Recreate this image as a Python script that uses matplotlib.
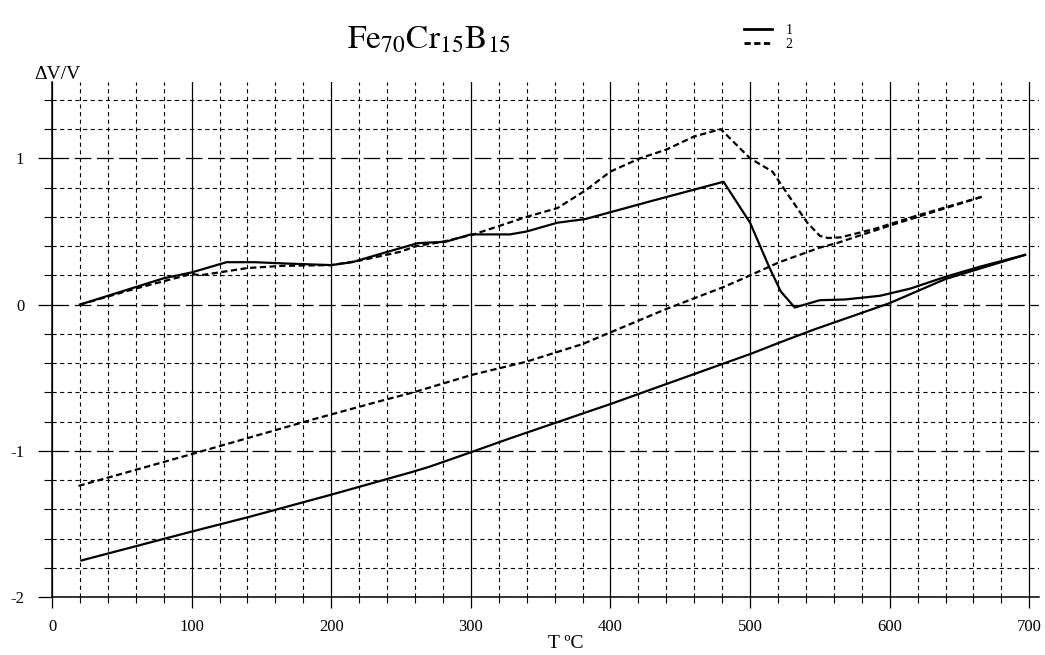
import matplotlib
matplotlib.use('Agg')
import matplotlib.pyplot as plt
from matplotlib.ticker import MultipleLocator

plt.rcParams['font.family'] = ['Liberation Serif', 'DejaVu Serif']
plt.rcParams['mathtext.fontset'] = 'stix'
plt.rcParams['axes.unicode_minus'] = False
plt.rcParams['lines.scale_dashes'] = False

# curve 1 (solid): heating and cooling branches
t1_heat = [20, 50, 80, 100, 125, 145, 170, 200, 215, 240, 262, 282, 300, 328, 340, 362,
           382, 430, 481, 500, 514, 522, 532, 550, 568, 593, 615, 640, 665, 697]
v1_heat = [0.0, 0.09, 0.18, 0.22, 0.29, 0.29, 0.28, 0.27, 0.29, 0.36, 0.42, 0.43, 0.48, 0.48, 0.50, 0.56,
           0.585, 0.71, 0.84, 0.56, 0.25, 0.09, -0.02, 0.03, 0.035, 0.06, 0.11, 0.19, 0.26, 0.34]
t1_cool = [21, 101, 142, 200, 256, 270, 300, 328, 400, 501, 521, 546, 600, 640, 697]
v1_cool = [-1.75, -1.55, -1.45, -1.30, -1.15, -1.11, -1.01, -0.915, -0.68, -0.335, -0.26, -0.17,
           0.01, 0.175, 0.34]

# curve 2 (dashed)
t2_heat = [20, 60, 100, 106, 140, 165, 200, 220, 249, 261, 280, 302, 340, 362, 382, 400, 421,
           440, 460, 479, 500, 516, 528, 541, 550, 556, 565, 590, 620, 667]
v2_heat = [0.0, 0.11, 0.21, 0.20, 0.25, 0.265, 0.27, 0.30, 0.36, 0.40, 0.43, 0.48, 0.60, 0.66, 0.78,
           0.91, 1.0, 1.06, 1.15, 1.20, 1.0, 0.91, 0.74, 0.56, 0.47, 0.455, 0.46, 0.52, 0.61, 0.74]
t2_cool = [19, 101, 187, 235, 259, 301, 340, 380, 400, 440, 481, 493, 521, 550, 562, 600, 667]
v2_cool = [-1.24, -1.02, -0.785, -0.66, -0.60, -0.48, -0.39, -0.27, -0.19, -0.03, 0.12, 0.17,
           0.29, 0.39, 0.42, 0.54, 0.74]

x_ticks = [0, 100, 200, 300, 400, 500, 600, 700]
y_ticks = [-2, -1, 0, 1]

fig = plt.figure(figsize=(10.45, 6.55), dpi=100)
ax = fig.add_axes([0.0498, 0.0885, 0.9445, 0.7858])

dash = (0, (4.5, 2.5))
ax.plot(t1_heat, v1_heat, color='black', lw=1.6, label='1')
ax.plot(t2_heat, v2_heat, color='black', lw=1.6, ls=dash, label='2')
ax.plot(t1_cool, v1_cool, color='black', lw=1.6)
ax.plot(t2_cool, v2_cool, color='black', lw=1.6, ls=dash)

ax.set_xlim(0, 707)
ax.set_ylim(-2, 1.52)
ax.set_xticks(x_ticks)
ax.set_yticks(y_ticks)
ax.xaxis.set_minor_locator(MultipleLocator(20))
ax.yaxis.set_minor_locator(MultipleLocator(0.2))

# grid: solid / short-dash verticals, long-dash / short-dash horizontals
ax.set_axisbelow(True)
ax.xaxis.grid(True, which='major', color='black', lw=0.9, ls='-')
ax.xaxis.grid(True, which='minor', color='black', lw=0.8, ls=(0, (3, 2.5)))
ax.yaxis.grid(True, which='major', color='black', lw=0.9, ls=(0, (12, 4)))
ax.yaxis.grid(True, which='minor', color='black', lw=0.8, ls=(0, (3, 2.5)))

for s in ['top', 'right']:
    ax.spines[s].set_visible(False)
ax.spines['left'].set_linewidth(1.1)
ax.spines['bottom'].set_linewidth(1.1)

ax.tick_params(axis='x', which='major', direction='out', length=8, width=0.9, pad=8, labelsize=12)
ax.tick_params(axis='x', which='minor', direction='out', length=4, width=0.8)
ax.tick_params(axis='y', which='major', direction='out', length=10, width=0.9, pad=10, labelsize=12)
ax.tick_params(axis='y', which='minor', direction='out', length=6, width=0.8)

fig.text(0.411, 0.938, r'$\mathrm{Fe_{70}Cr_{15}B_{15}}$', fontsize=24, ha='center', va='center')
fig.text(0.033, 0.887, 'ΔV/V', fontsize=14, ha='left', va='center')
fig.text(0.541, 0.018, 'T ºC', fontsize=14, ha='center', va='center')

leg = fig.legend(loc='center', bbox_to_anchor=(0.735, 0.943), frameon=False, fontsize=10,
                 handlelength=2.0, labelspacing=0.05, handletextpad=1.0, borderpad=0)
for h in leg.legend_handles:
    h.set_linewidth(2.0)

fig.savefig('out.png', dpi=100)
